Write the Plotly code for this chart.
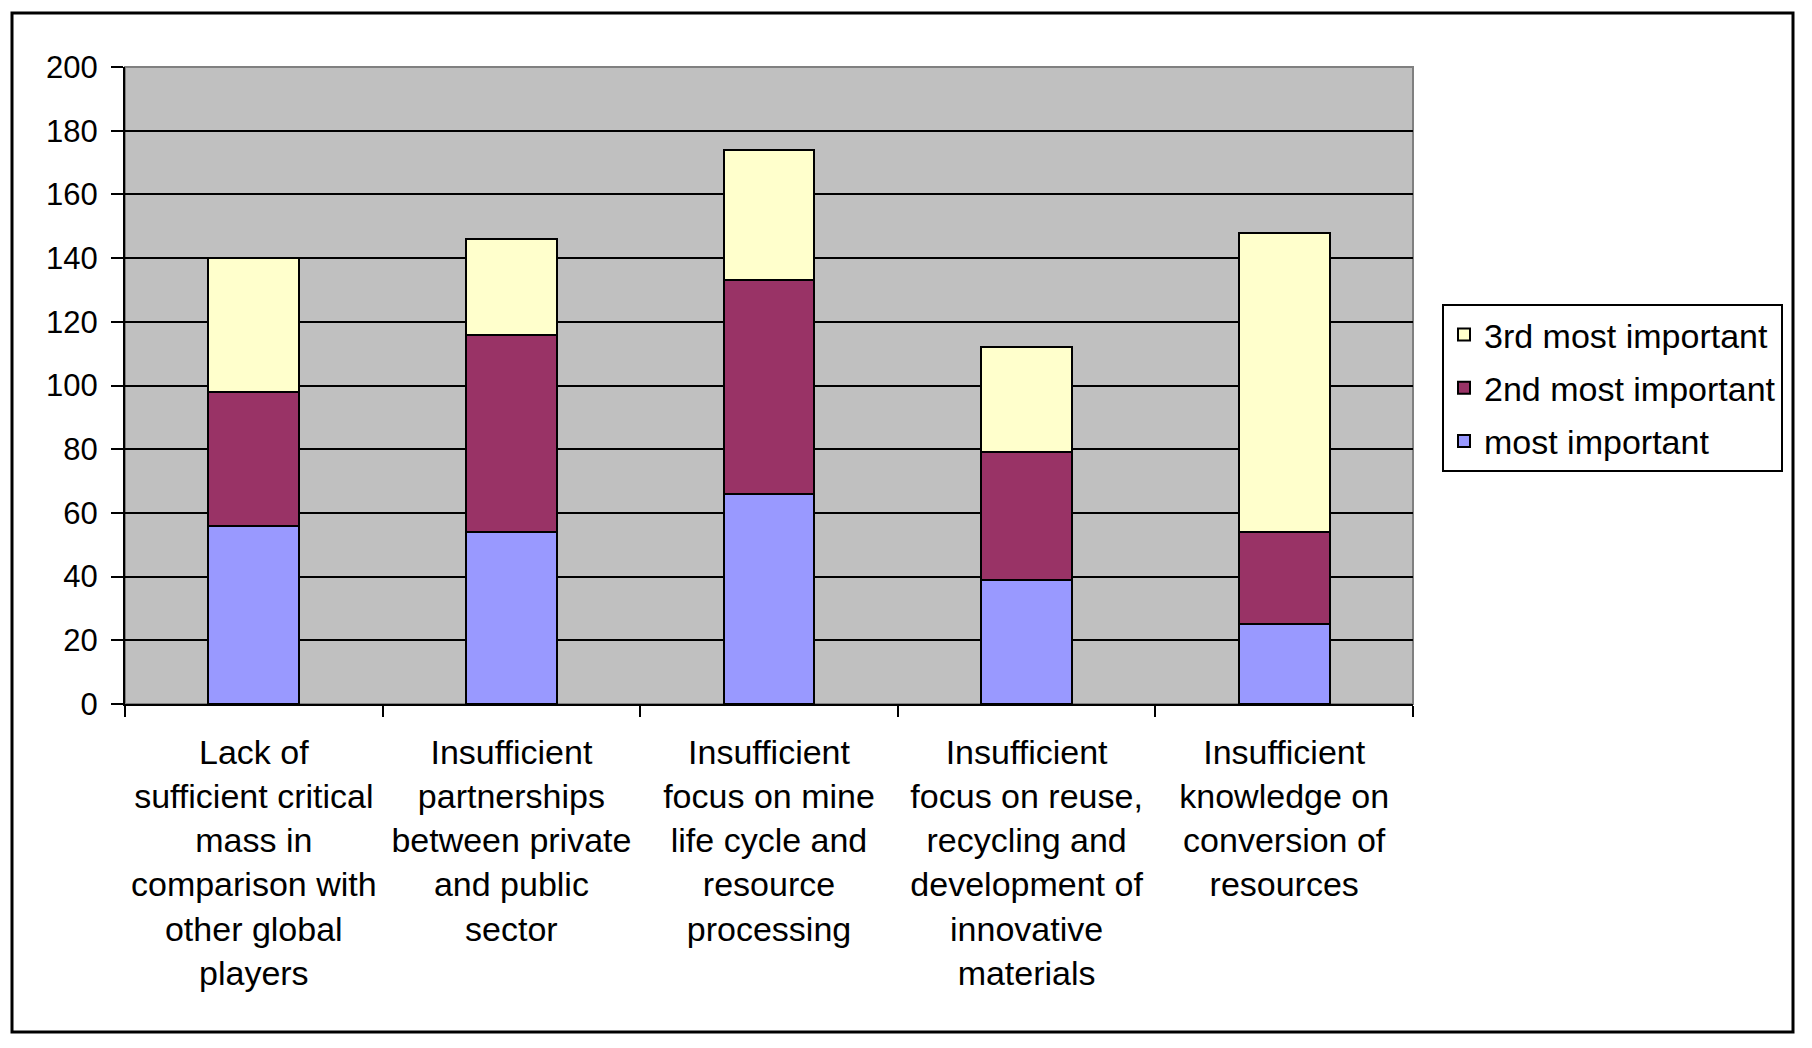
import plotly.graph_objects as go

categories = [
    "Lack of<br>sufficient critical<br>mass in<br>comparison with<br>other global<br>players",
    "Insufficient<br>partnerships<br>between private<br>and public<br>sector",
    "Insufficient<br>focus on mine<br>life cycle and<br>resource<br>processing",
    "Insufficient<br>focus on reuse,<br>recycling and<br>development of<br>innovative<br>materials",
    "Insufficient<br>knowledge on<br>conversion of<br>resources",
]
most_important = [56, 54, 66, 39, 25]
second_most = [42, 62, 67, 40, 29]
third_most = [42, 30, 41, 33, 94]

series_names = ["most important", "2nd most important", "3rd most important"]
series_colors = ["#9999FF", "#993366", "#FFFFCC"]
legend_ranks = [3, 2, 1]
y_ticks = [0, 20, 40, 60, 80, 100, 120, 140, 160, 180, 200]

FONT = "Liberation Sans, Arial, sans-serif"

fig = go.Figure()
for i, (name, vals, col) in enumerate(zip(series_names, [most_important, second_most, third_most], series_colors)):
    fig.add_trace(go.Bar(
        x=categories, y=vals, name=name, legendgroup=f"g{i}",
        legendrank=legend_ranks[i],
        marker=dict(color=col, line=dict(color="black", width=2)),
    ))

# page body has an 8px margin, so figure coordinates = page coordinates - 8
W, H = 1796, 1032
L, R, T, B = 117, 1405, 59, 696
pw, ph = R - L, B - T

def px(x):
    return (x - L) / pw

def py(y):
    return (B - y) / ph

fig.update_layout(
    width=W, height=H,
    margin=dict(l=L, r=W - R, t=T, b=H - B, autoexpand=False),
    barmode="stack",
    bargap=0.647,
    plot_bgcolor="#C0C0C0",
    paper_bgcolor="white",
    font=dict(family=FONT, color="black", size=31),
    legend=dict(
        x=px(1434), y=py(296), xanchor="left", yanchor="top",
        traceorder="grouped", tracegroupgap=6,
        bgcolor="white", bordercolor="black", borderwidth=2,
        font=dict(size=34, family=FONT, color="black"),
    ),
    showlegend=True,
    shapes=[
        dict(type="rect", xref="paper", yref="paper", x0=0, x1=1, y0=0, y1=1,
             line=dict(color="#808080", width=2), layer="below"),
        dict(type="rect", xref="paper", yref="paper",
             x0=px(4), x1=px(1785), y0=py(1024), y1=py(5),
             line=dict(color="black", width=3)),
    ],
)

fig.update_yaxes(
    range=[0, 200], tickvals=y_ticks, ticktext=[str(v) for v in y_ticks],
    showgrid=True, gridcolor="black", gridwidth=2,
    showline=True, linecolor="black", linewidth=2,
    ticks="outside", ticklen=12, tickwidth=2, tickcolor="black",
    ticklabelstandoff=7, zeroline=False,
    tickfont=dict(size=31, family=FONT, color="black"),
)
fig.update_xaxes(
    showline=True, linecolor="black", linewidth=2,
    ticks="outside", ticklen=11, tickwidth=2, tickcolor="black",
    tickson="boundaries", showgrid=False, ticklabelstandoff=17,
    tickfont=dict(size=34, family=FONT, color="black"),
    tickangle=0,
)

fig.write_html("out.html")
